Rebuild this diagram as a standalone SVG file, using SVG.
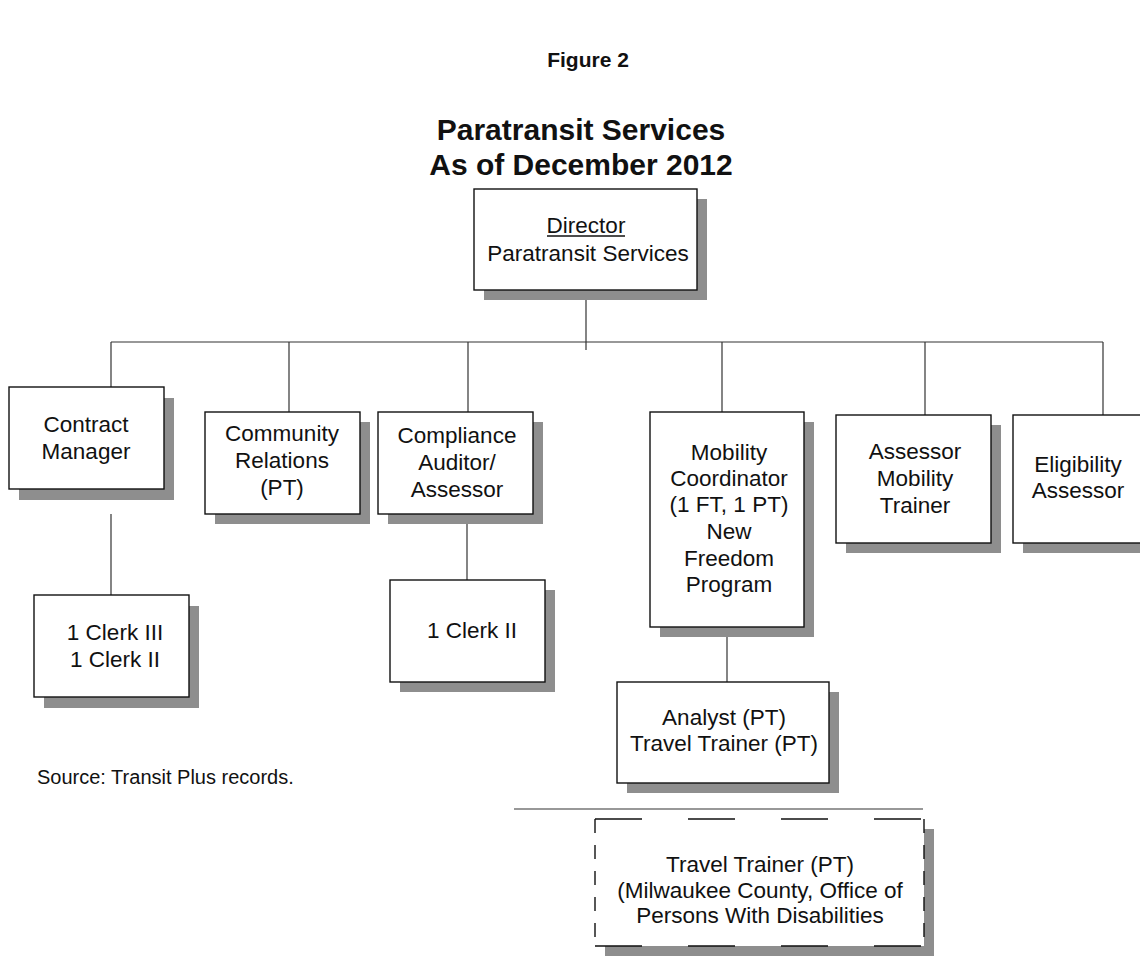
<svg xmlns="http://www.w3.org/2000/svg" width="1140" height="956" viewBox="0 0 1140 956">
<style>
text{font-family:"Liberation Sans",Arial,sans-serif;fill:#111;}
.t{font-size:22.5px;text-anchor:middle;}
.h{font-weight:bold;text-anchor:middle;}
.box{fill:#fff;stroke:#111;stroke-width:1.4;}
.sh{fill:#8e8e8e;}
.ln{stroke:#333;stroke-width:1.2;fill:none;}
.dh{stroke:#111;stroke-width:1.4;stroke-dasharray:47 46;fill:none;}
.dv{stroke:#111;stroke-width:1.4;stroke-dasharray:14 12;fill:none;}
</style>
<rect width="1140" height="956" fill="#fff"/>
<g id="title">
<text class="h" x="588" y="67" font-size="21">Figure 2</text>
<text class="h" x="581" y="140" font-size="30">Paratransit Services</text>
<text class="h" x="581" y="175" font-size="30">As of December 2012</text>
</g>
<g id="connectors">
<line class="ln" x1="586" y1="300" x2="586" y2="350"/>
<line class="ln" x1="111" y1="342" x2="1103" y2="342"/>
<line class="ln" x1="111" y1="342" x2="111" y2="387"/>
<line class="ln" x1="289" y1="342" x2="289" y2="412"/>
<line class="ln" x1="468" y1="342" x2="468" y2="412"/>
<line class="ln" x1="722" y1="342" x2="722" y2="412"/>
<line class="ln" x1="925" y1="342" x2="925" y2="415"/>
<line class="ln" x1="1103" y1="342" x2="1103" y2="415"/>
<line class="ln" x1="111" y1="514" x2="111" y2="595"/>
<line class="ln" x1="467" y1="514" x2="467" y2="580"/>
<line class="ln" x1="727" y1="627" x2="727" y2="682"/>
<line class="ln" x1="514" y1="809" x2="923" y2="809"/>
</g>
<g id="director">
<rect class="sh" x="484" y="199" width="223" height="101"/>
<rect class="box" x="474" y="189" width="223" height="101"/>
<text class="t" x="586" y="233">Director</text>
<line x1="547" y1="236" x2="625" y2="236" stroke="#111" stroke-width="1.4"/>
<text class="t" x="588" y="261">Paratransit Services</text>
</g>
<g id="contract-manager">
<rect class="sh" x="19" y="398" width="155" height="102"/>
<rect class="box" x="9" y="387" width="155" height="102"/>
<text class="t" x="86" y="432">Contract</text>
<text class="t" x="86" y="459">Manager</text>
</g>
<g id="community-relations">
<rect class="sh" x="215" y="422" width="155" height="102"/>
<rect class="box" x="205" y="412" width="155" height="102"/>
<text class="t" x="282" y="441">Community</text>
<text class="t" x="282" y="468">Relations</text>
<text class="t" x="282" y="495">(PT)</text>
</g>
<g id="compliance-auditor">
<rect class="sh" x="388" y="422" width="155" height="102"/>
<rect class="box" x="378" y="412" width="155" height="102"/>
<text class="t" x="457" y="443">Compliance</text>
<text class="t" x="457" y="470">Auditor/</text>
<text class="t" x="457" y="497">Assessor</text>
</g>
<g id="mobility-coordinator">
<rect class="sh" x="660" y="422" width="154" height="215"/>
<rect class="box" x="650" y="412" width="154" height="215"/>
<text class="t" x="729" y="460">Mobility</text>
<text class="t" x="729" y="486">Coordinator</text>
<text class="t" x="729" y="512">(1 FT, 1 PT)</text>
<text class="t" x="729" y="539">New</text>
<text class="t" x="729" y="566">Freedom</text>
<text class="t" x="729" y="592">Program</text>
</g>
<g id="assessor-mobility-trainer">
<rect class="sh" x="846" y="425" width="155" height="128"/>
<rect class="box" x="836" y="415" width="155" height="128"/>
<text class="t" x="915" y="459">Assessor</text>
<text class="t" x="915" y="486">Mobility</text>
<text class="t" x="915" y="513">Trainer</text>
</g>
<g id="eligibility-assessor">
<rect class="sh" x="1023" y="425" width="155" height="128"/>
<rect class="box" x="1013" y="415" width="155" height="128"/>
<text class="t" x="1078" y="472">Eligibility</text>
<text class="t" x="1078" y="498">Assessor</text>
</g>
<g id="clerks-contract">
<rect class="sh" x="44" y="606" width="155" height="102"/>
<rect class="box" x="34" y="595" width="155" height="102"/>
<text class="t" x="115" y="640">1 Clerk III</text>
<text class="t" x="115" y="667">1 Clerk II</text>
</g>
<g id="clerk-compliance">
<rect class="sh" x="400" y="590" width="155" height="102"/>
<rect class="box" x="390" y="580" width="155" height="102"/>
<text class="t" x="472" y="638">1 Clerk II</text>
</g>
<g id="analyst">
<rect class="sh" x="627" y="692" width="212" height="101"/>
<rect class="box" x="617" y="682" width="212" height="101"/>
<text class="t" x="724" y="725">Analyst (PT)</text>
<text class="t" x="724" y="751">Travel Trainer (PT)</text>
</g>
<g id="travel-trainer-county">
<rect class="sh" x="605" y="829" width="329" height="127"/>
<rect x="595" y="819" width="329" height="127" fill="#fff"/>
<line class="dh" x1="595" y1="819" x2="924" y2="819"/>
<line class="dh" x1="595" y1="946" x2="924" y2="946"/>
<line class="dv" x1="595" y1="819" x2="595" y2="946"/>
<line class="dv" x1="924" y1="819" x2="924" y2="946"/>
<text class="t" x="760" y="872">Travel Trainer (PT)</text>
<text class="t" x="760" y="898">(Milwaukee County, Office of</text>
<text class="t" x="760" y="923">Persons With Disabilities</text>
</g>
<g id="source">
<text x="37" y="784" font-size="20">Source: Transit Plus records.</text>
</g>
</svg>
